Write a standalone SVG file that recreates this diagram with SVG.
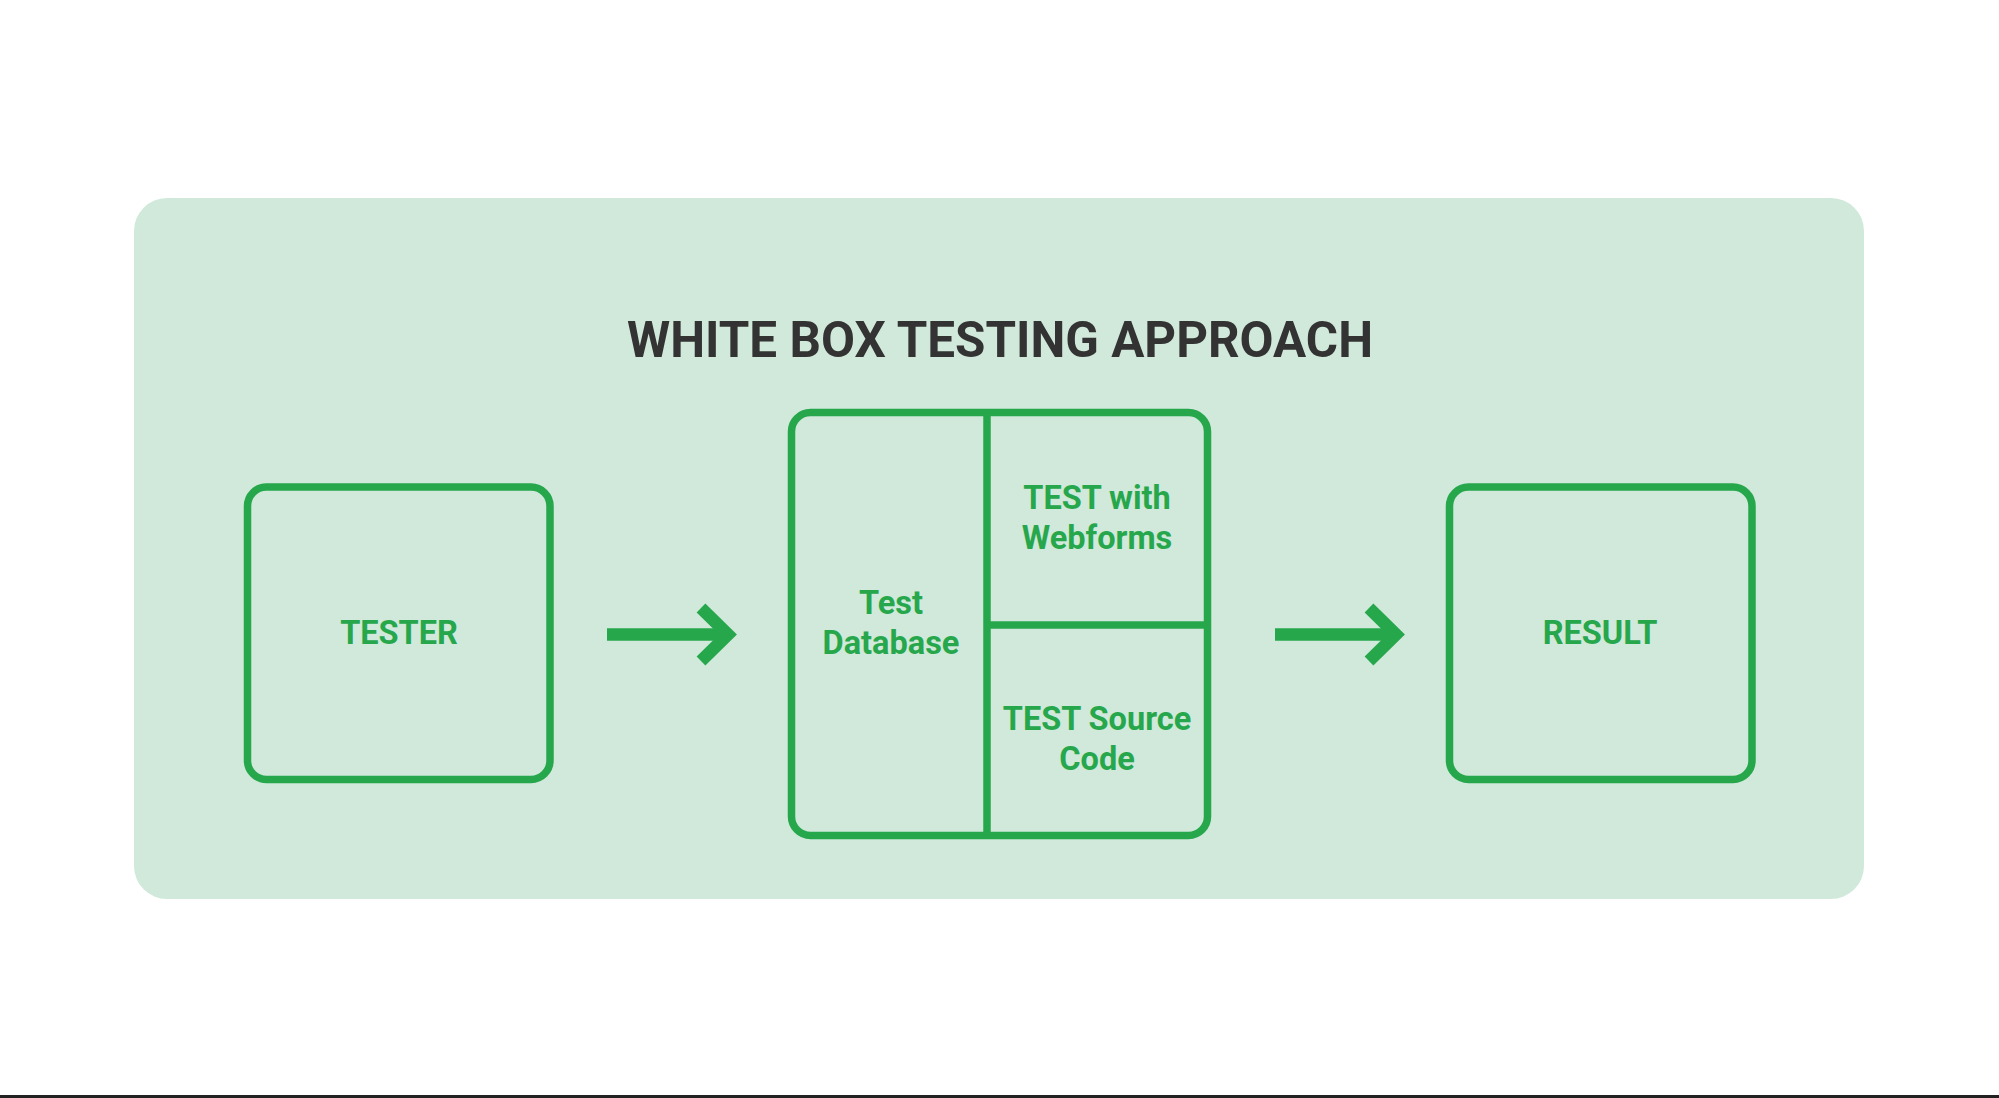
<svg xmlns="http://www.w3.org/2000/svg" width="1999" height="1098" viewBox="0 0 1999 1098">
<style>
.box{fill:none;stroke:#27a74c;stroke-width:7.5}
.div{stroke:#27a74c;stroke-width:7.5;fill:none}
.lbl{font-family:Roboto,"Liberation Sans",sans-serif;font-weight:700;font-size:32.5px;fill:#27a74c;text-anchor:middle}
.title{font-family:Roboto,"Liberation Sans",sans-serif;font-weight:700;font-size:50px;fill:#333333;text-anchor:middle}
.arr{stroke:#27a74c;stroke-width:12.5;fill:none;stroke-linejoin:miter;stroke-miterlimit:4}
</style>
<rect width="1999" height="1098" fill="#ffffff"/>
<rect id="panel" x="134" y="198" width="1730" height="701" rx="33" fill="#d0e9db"/>
<text id="title" class="title" x="1000" y="357" textLength="746" lengthAdjust="spacingAndGlyphs">WHITE BOX TESTING APPROACH</text>
<g id="tester">
<rect class="box" x="247.5" y="487" width="302.5" height="292.5" rx="19"/>
<text class="lbl" x="399" y="644">TESTER</text>
</g>
<g id="system">
<rect class="box" x="791.5" y="412.5" width="416" height="423" rx="19"/>
<line class="div" x1="987" y1="412.5" x2="987" y2="835.5"/>
<line class="div" x1="987" y1="625" x2="1207.5" y2="625"/>
<text class="lbl" x="891" y="614">Test</text>
<text class="lbl" x="891" y="654">Database</text>
<text class="lbl" x="1097" y="509">TEST with</text>
<text class="lbl" x="1097" y="549">Webforms</text>
<text class="lbl" x="1097" y="730">TEST Source</text>
<text class="lbl" x="1097" y="770">Code</text>
</g>
<g id="result">
<rect class="box" x="1449.5" y="487" width="302.5" height="292.5" rx="19"/>
<text class="lbl" x="1600" y="644">RESULT</text>
</g>
<g id="connectors">
<line class="arr" x1="607" y1="634.5" x2="726" y2="634.5"/>
<polyline class="arr" points="701,608 728,634.5 701,661"/>
<line class="arr" x1="1275" y1="634.5" x2="1394" y2="634.5"/>
<polyline class="arr" points="1369,608 1396,634.5 1369,661"/>
</g>
<rect x="0" y="1095" width="1999" height="3" fill="#222222"/>
</svg>
